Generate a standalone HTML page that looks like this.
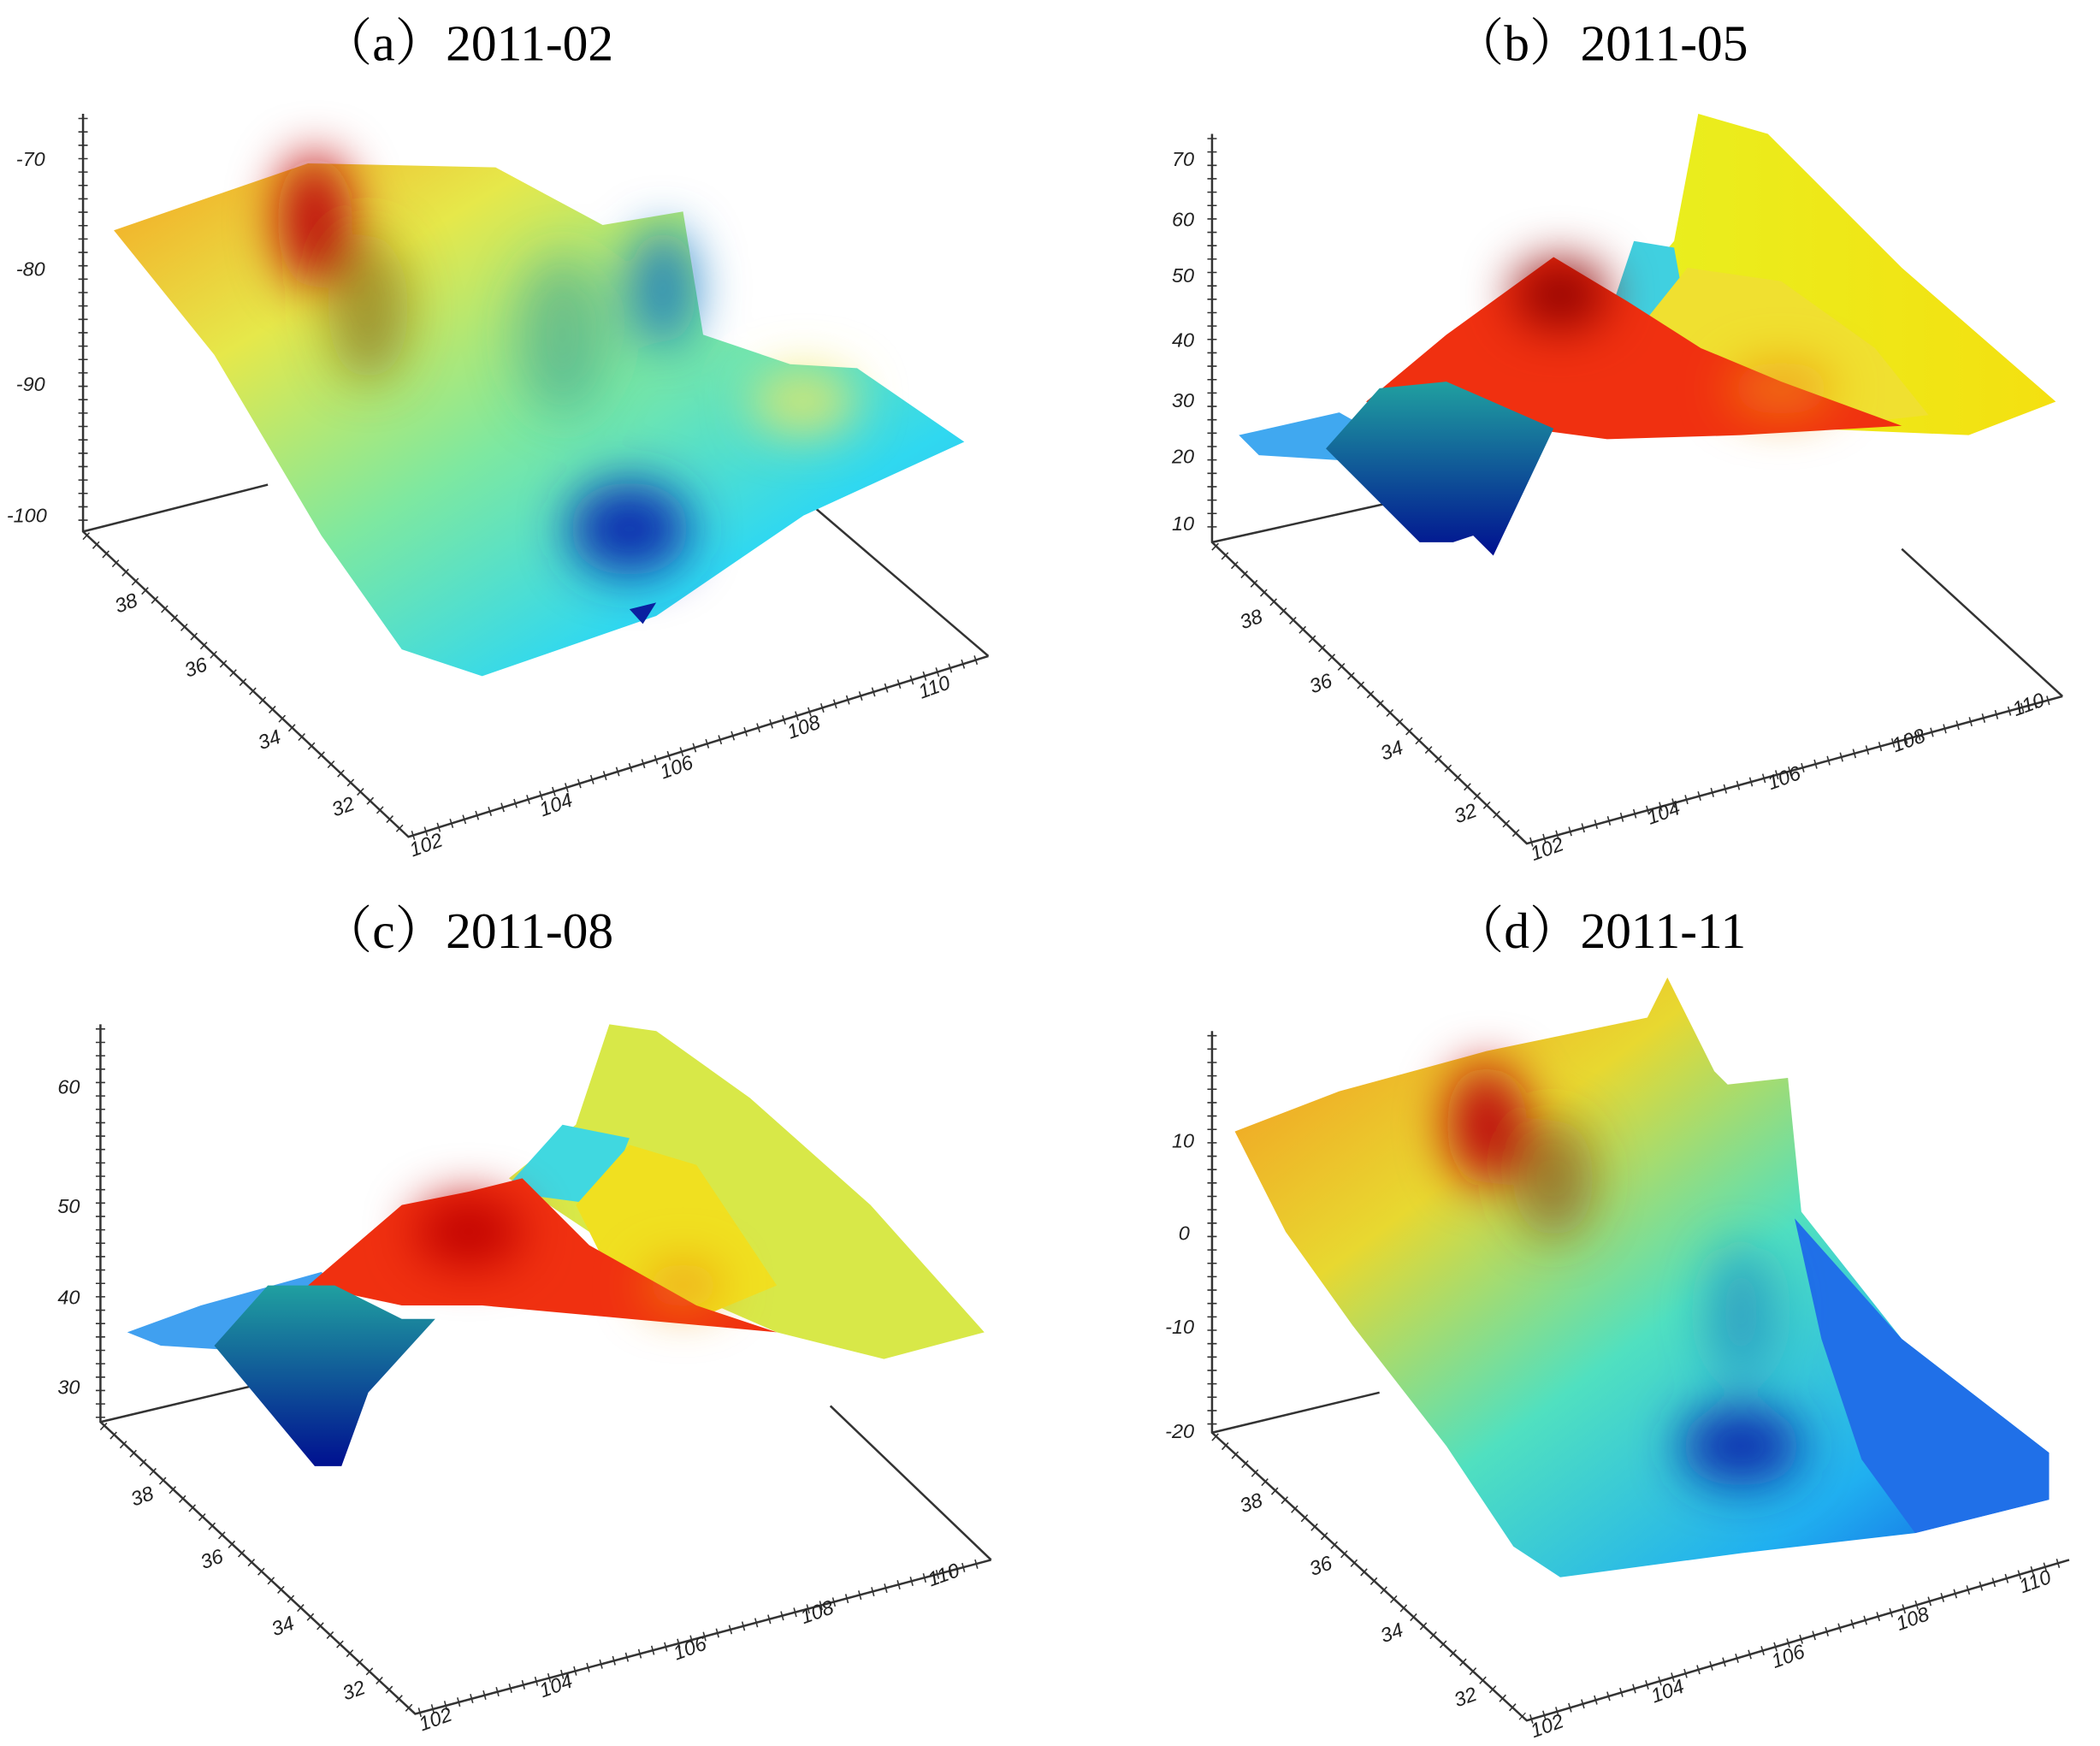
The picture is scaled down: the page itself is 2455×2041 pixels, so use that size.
<!DOCTYPE html>
<html><head><meta charset="utf-8"><style>
html,body{margin:0;padding:0;background:#fff;}
svg{display:block}
text{font-family:"Liberation Serif","Noto Serif CJK SC",serif;}
.t{font-size:38px;fill:#000}
.k{font-family:"Liberation Sans",sans-serif;font-size:15px;fill:#222;font-style:italic}
.ax{stroke:#333;stroke-width:1.6;fill:none}
.tk{stroke:#333;stroke-width:7;stroke-dasharray:1 9;fill:none}
</style></head><body>
<svg width="2455" height="2041" viewBox="0 0 1568 1304" preserveAspectRatio="none" xmlns="http://www.w3.org/2000/svg">
<defs>
<filter id="b" x="-50%" y="-50%" width="200%" height="200%"><feGaussianBlur stdDeviation="18"/></filter>
<linearGradient id="ga" x1="0" y1="0" x2="1" y2="1"><stop offset="0" stop-color="#f5a623"/><stop offset="0.25" stop-color="#e6e84a"/><stop offset="0.5" stop-color="#7ee8a0"/><stop offset="0.75" stop-color="#30d8f0"/><stop offset="1" stop-color="#2aa8f0"/></linearGradient>
<linearGradient id="gb" x1="0" y1="0" x2="1" y2="0"><stop offset="0" stop-color="#e8f020"/><stop offset="1" stop-color="#f4e010"/></linearGradient>
<linearGradient id="gd" x1="0" y1="0" x2="1" y2="1"><stop offset="0" stop-color="#f59020"/><stop offset="0.3" stop-color="#e8d830"/><stop offset="0.55" stop-color="#50e0c0"/><stop offset="0.8" stop-color="#20b0f0"/><stop offset="1" stop-color="#1050e0"/></linearGradient>
<linearGradient id="pit" x1="0" y1="0" x2="0" y2="1"><stop offset="0" stop-color="#20a0a0"/><stop offset="1" stop-color="#001090"/></linearGradient>
</defs>
<rect width="1568" height="1304" fill="#fff"/>
<text class="t" x="240" y="45">（a）2011-02</text>
<text class="t" x="1085" y="45">（b）2011-05</text>
<text class="t" x="240" y="708">（c）2011-08</text>
<text class="t" x="1085" y="708">（d）2011-11</text>

<!-- Panel a -->
<g>
<path class="ax" d="M62 85 V397 L305 625 L738 490 M62 397 L200 362 M738 490 L600 372"/>
<path class="tk" d="M62 88 V395"/>
<path class="tk" d="M64 400 L302 622"/><path class="tk" d="M308 624 L735 491"/>
<text class="k" x="12" y="124">-70</text><text class="k" x="12" y="206">-80</text><text class="k" x="12" y="292">-90</text><text class="k" x="5" y="390">-100</text>
<text class="k" x="88" y="458" transform="rotate(-20 88 458)">38</text><text class="k" x="140" y="506" transform="rotate(-20 140 506)">36</text><text class="k" x="195" y="560" transform="rotate(-20 195 560)">34</text><text class="k" x="250" y="610" transform="rotate(-20 250 610)">32</text>
<text class="k" x="308" y="640" transform="rotate(-20 308 640)">102</text><text class="k" x="405" y="610" transform="rotate(-20 405 610)">104</text><text class="k" x="495" y="582" transform="rotate(-20 495 582)">106</text><text class="k" x="590" y="552" transform="rotate(-20 590 552)">108</text><text class="k" x="688" y="522" transform="rotate(-20 688 522)">110</text>
<polygon fill="url(#ga)" points="85,172 230,122 370,125 450,168 510,158 525,250 590,272 640,275 720,330 600,385 490,460 360,505 300,485 240,400 160,265"/>
<g filter="url(#b)">
<ellipse cx="235" cy="165" rx="28" ry="50" fill="#c01010"/>
<ellipse cx="275" cy="230" rx="30" ry="55" fill="#806010" opacity="0.6"/>
<ellipse cx="470" cy="395" rx="45" ry="35" fill="#1030b0"/>
<ellipse cx="495" cy="215" rx="25" ry="45" fill="#1070c0" opacity="0.8"/>
<ellipse cx="600" cy="300" rx="40" ry="25" fill="#f0e860" opacity="0.8"/>
<ellipse cx="420" cy="250" rx="35" ry="60" fill="#3a9a90" opacity="0.5"/>
</g>
<polygon fill="#0a20a0" points="470,455 490,450 480,466"/>
</g>

<!-- Panel b -->
<g>
<path class="ax" d="M905 100 V405 L1140 630 L1540 520 M905 405 L1040 375 M1540 520 L1420 410"/>
<path class="tk" d="M905 103 V403"/>
<path class="tk" d="M907 408 L1137 627"/><path class="tk" d="M1143 629 L1537 521"/>
<text class="k" x="875" y="124">70</text><text class="k" x="875" y="169">60</text><text class="k" x="875" y="211">50</text><text class="k" x="875" y="259">40</text><text class="k" x="875" y="304">30</text><text class="k" x="875" y="346">20</text><text class="k" x="875" y="396">10</text>
<text class="k" x="928" y="470" transform="rotate(-20 928 470)">38</text><text class="k" x="980" y="518" transform="rotate(-20 980 518)">36</text><text class="k" x="1033" y="568" transform="rotate(-20 1033 568)">34</text><text class="k" x="1088" y="615" transform="rotate(-20 1088 615)">32</text>
<text class="k" x="1145" y="643" transform="rotate(-20 1145 643)">102</text><text class="k" x="1232" y="616" transform="rotate(-20 1232 616)">104</text><text class="k" x="1322" y="590" transform="rotate(-20 1322 590)">106</text><text class="k" x="1415" y="562" transform="rotate(-20 1415 562)">108</text><text class="k" x="1505" y="535" transform="rotate(-20 1505 535)">110</text>
<polygon fill="url(#gb)" points="1200,240 1250,180 1268,85 1320,100 1420,200 1535,300 1470,325 1350,320 1250,300"/>
<polygon fill="#40d0e0" points="1200,240 1220,180 1250,185 1260,240"/>
<polygon fill="#f0e030" points="1220,250 1260,200 1330,210 1400,260 1440,310 1350,320 1260,300"/>
<polygon fill="#f03010" points="1020,300 1080,250 1160,192 1215,225 1270,260 1330,285 1420,318 1300,325 1200,328 1140,320 1080,320"/>
<g filter="url(#b)"><ellipse cx="1165" cy="220" rx="35" ry="25" fill="#900000"/><ellipse cx="1330" cy="290" rx="40" ry="20" fill="#f09010" opacity="0.7"/></g>
<polygon fill="#40a8f0" points="925,325 1000,308 1030,325 1020,345 940,340"/>
<polygon fill="url(#pit)" points="990,335 1030,290 1080,285 1160,320 1115,415 1100,400 1085,405 1060,405"/>
</g>

<!-- Panel c -->
<g>
<path class="ax" d="M75 765 V1062 L310 1280 L740 1165 M75 1062 L210 1030 M740 1165 L620 1050"/>
<path class="tk" d="M75 768 V1060"/>
<path class="tk" d="M77 1065 L307 1277"/><path class="tk" d="M313 1279 L737 1166"/>
<text class="k" x="43" y="817">60</text><text class="k" x="43" y="906">50</text><text class="k" x="43" y="974">40</text><text class="k" x="43" y="1041">30</text>
<text class="k" x="100" y="1125" transform="rotate(-20 100 1125)">38</text><text class="k" x="152" y="1172" transform="rotate(-20 152 1172)">36</text><text class="k" x="205" y="1222" transform="rotate(-20 205 1222)">34</text><text class="k" x="258" y="1270" transform="rotate(-20 258 1270)">32</text>
<text class="k" x="315" y="1293" transform="rotate(-20 315 1293)">102</text><text class="k" x="405" y="1268" transform="rotate(-20 405 1268)">104</text><text class="k" x="505" y="1240" transform="rotate(-20 505 1240)">106</text><text class="k" x="600" y="1213" transform="rotate(-20 600 1213)">108</text><text class="k" x="695" y="1185" transform="rotate(-20 695 1185)">110</text>
<polygon fill="#d8e848" points="380,880 430,840 455,765 490,770 560,820 650,900 735,995 660,1015 580,995 500,960"/>
<polygon fill="#40d8e0" points="375,890 420,840 470,850 450,900"/>
<polygon fill="#f0e020" points="430,900 470,855 520,870 580,960 520,985 460,960"/>
<polygon fill="#40a0f0" points="95,995 150,975 240,950 260,970 200,1010 120,1005"/>
<polygon fill="#f03010" points="230,960 300,900 350,890 390,880 440,930 520,975 580,995 470,985 360,975 300,975"/>
<g filter="url(#b)"><ellipse cx="350" cy="920" rx="40" ry="25" fill="#c00000"/><ellipse cx="510" cy="960" rx="30" ry="18" fill="#f09010" opacity="0.7"/></g>
<polygon fill="url(#pit)" points="160,1005 200,960 250,960 300,985 325,985 275,1040 255,1095 235,1095"/>
</g>

<!-- Panel d -->
<g>
<path class="ax" d="M905 770 V1070 L1140 1285 L1545 1165 M905 1070 L1030 1040"/>
<path class="tk" d="M905 773 V1068"/>
<path class="tk" d="M907 1073 L1137 1282"/><path class="tk" d="M1143 1284 L1542 1166"/>
<text class="k" x="875" y="857">10</text><text class="k" x="880" y="926">0</text><text class="k" x="870" y="996">-10</text><text class="k" x="870" y="1074">-20</text>
<text class="k" x="928" y="1130" transform="rotate(-20 928 1130)">38</text><text class="k" x="980" y="1177" transform="rotate(-20 980 1177)">36</text><text class="k" x="1033" y="1227" transform="rotate(-20 1033 1227)">34</text><text class="k" x="1088" y="1275" transform="rotate(-20 1088 1275)">32</text>
<text class="k" x="1145" y="1298" transform="rotate(-20 1145 1298)">102</text><text class="k" x="1235" y="1272" transform="rotate(-20 1235 1272)">104</text><text class="k" x="1325" y="1246" transform="rotate(-20 1325 1246)">106</text><text class="k" x="1418" y="1218" transform="rotate(-20 1418 1218)">108</text><text class="k" x="1510" y="1190" transform="rotate(-20 1510 1190)">110</text>
<polygon fill="url(#gd)" points="922,845 1000,815 1110,785 1230,760 1245,730 1280,800 1290,810 1335,805 1345,905 1420,1000 1530,1085 1530,1120 1430,1145 1300,1160 1165,1178 1130,1155 1080,1080 1010,990 960,920"/>
<polygon fill="#2070e8" points="1340,910 1420,1000 1530,1085 1530,1120 1430,1145 1390,1090 1360,1000"/>
<g filter="url(#b)">
<ellipse cx="1110" cy="840" rx="30" ry="45" fill="#c01010"/>
<ellipse cx="1300" cy="1080" rx="45" ry="30" fill="#0a30b0"/>
<ellipse cx="1160" cy="880" rx="30" ry="45" fill="#804010" opacity="0.6"/>
<ellipse cx="1300" cy="980" rx="25" ry="50" fill="#1a80c0" opacity="0.6"/>
</g>
</g>
</svg>
</body></html>
